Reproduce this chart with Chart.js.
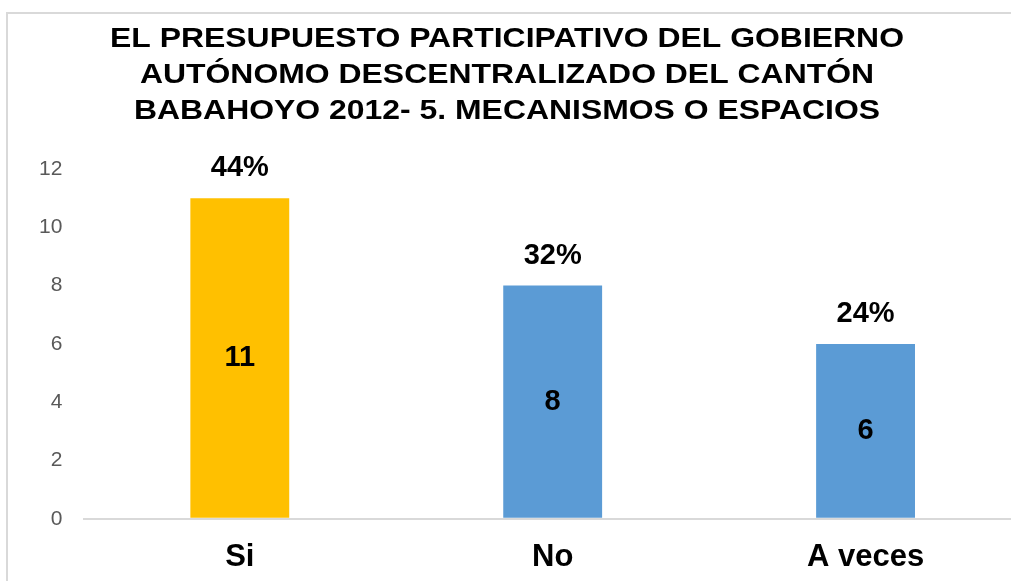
<!DOCTYPE html>
<html>
<head>
<meta charset="utf-8">
<script src="https://cdn.jsdelivr.net/npm/chart.js@4.4.0/dist/chart.umd.min.js"></script>
<style>
  html, body { margin: 0; padding: 0; background: #fff; overflow: hidden; }
  #frame {
    position: absolute; left: 6px; top: 12px;
    width: 1016px; height: 600px;
    border-left: 2px solid #d9d9d9; border-top: 2px solid #d9d9d9;
  }
  #wrap { position: relative; width: 1016px; height: 582px; }
</style>
</head>
<body>
<div id="frame"><div id="wrap"><canvas id="chart"></canvas></div></div>
<script>
// Datos
const categorias = ["Si", "No", "A veces"];
const frecuencias = [11, 8, 6];
const porcentajes = ["44%", "32%", "24%"];
const colores = ["#FFC000", "#5B9BD5", "#5B9BD5"];
const tituloLineas = [
  "EL PRESUPUESTO PARTICIPATIVO DEL GOBIERNO",
  "AUTÓNOMO DESCENTRALIZADO DEL CANTÓN",
  "BABAHOYO 2012- 5. MECANISMOS O ESPACIOS"
];

const FUENTE = "'Liberation Sans', Arial, sans-serif";
const TIT_SIZE = 28, TIT_LH = 36;

// Etiquetas dentro y encima de las barras
const etiquetas = {
  id: "etiquetas",
  afterDatasetsDraw(chart) {
    const ctx = chart.ctx;
    const meta = chart.getDatasetMeta(0);
    ctx.save();
    ctx.fillStyle = "#000";
    ctx.textAlign = "center";
    ctx.textBaseline = "middle";
    meta.data.forEach((bar, i) => {
      ctx.font = "bold 29px " + FUENTE;
      ctx.fillText(frecuencias[i], bar.x, (bar.y + bar.base) / 2);
      ctx.fillText(porcentajes[i], bar.x, bar.y - 30);
    });
    ctx.restore();
  }
};

// Título con letras ensanchadas (en el original el texto está estirado)
const tituloAncho = {
  id: "tituloAncho",
  afterDraw(chart) {
    const ctx = chart.ctx;
    const top = chart.titleBlock.top + 7;
    ctx.save();
    ctx.translate(499, 0);
    ctx.scale(1.14, 1);
    ctx.fillStyle = "#000";
    ctx.font = "bold " + TIT_SIZE + "px " + FUENTE;
    ctx.textBaseline = "middle";
    ctx.textAlign = "center";
    tituloLineas.forEach((linea, i) => {
      ctx.fillText(linea, 0, top + TIT_LH * (i + 0.5));
    });
    ctx.restore();
  }
};

new Chart(document.getElementById("chart"), {
  type: "bar",
  data: {
    labels: categorias,
    datasets: [{
      data: frecuencias,
      backgroundColor: colores,
      borderWidth: 0,
      barPercentage: 1,
      categoryPercentage: 0.316
    }]
  },
  options: {
    responsive: true,
    maintainAspectRatio: false,
    animation: false,
    layout: { padding: { left: 10, right: 2, top: 0, bottom: 0 } },
    plugins: {
      legend: { display: false },
      tooltip: { enabled: false },
      title: {
        display: true,
        text: tituloLineas,
        color: "rgba(0,0,0,0)",
        font: { family: FUENTE, size: TIT_SIZE, weight: "bold", lineHeight: TIT_LH / TIT_SIZE },
        padding: { top: 5, bottom: 42 }
      }
    },
    scales: {
      x: {
        grid: { display: false, drawTicks: false },
        border: { display: false },
        ticks: {
          color: "#000",
          padding: 20,
          font: { family: FUENTE, size: 31, weight: "bold" }
        }
      },
      y: {
        min: 0,
        max: 12,
        border: { display: false },
        grid: {
          drawTicks: false,
          lineWidth: 2,
          color: c => c.tick.value === 0 ? "#d9d9d9" : "rgba(0,0,0,0)"
        },
        ticks: {
          stepSize: 2,
          color: "#595959",
          padding: 21,
          font: { family: FUENTE, size: 21 }
        }
      }
    }
  },
  plugins: [etiquetas, tituloAncho]
});
</script>
</body>
</html>
